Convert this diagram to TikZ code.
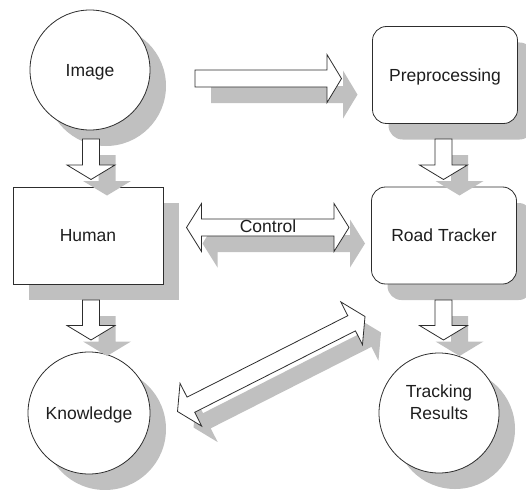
\documentclass[tikz,border=0pt]{standalone}
\usepackage{fontspec}
\setmainfont{Liberation Sans}
\usetikzlibrary{calc,shadows}
\definecolor{shadowgray}{RGB}{192,192,192}
\definecolor{linegray}{RGB}{45,45,45}
\definecolor{textgray}{RGB}{30,30,30}
\newcommand\sarrow[2]{%
  \draw[blk] ($(#1)!8.5pt!90:(#2)$) -- ($(#2)!14.5pt!(#1)!8.5pt!-90:(#1)$)
    -- ($(#2)!14.5pt!(#1)!24pt!-90:(#1)$) -- (#2)
    -- ($(#2)!14.5pt!(#1)!24pt!90:(#1)$) -- ($(#2)!14.5pt!(#1)!8.5pt!90:(#1)$)
    -- ($(#1)!8.5pt!-90:(#2)$) -- cycle;}
\newcommand\darrow[2]{%
  \draw[blk] (#1) -- ($(#1)!15pt!(#2)!24pt!90:(#2)$) -- ($(#1)!15pt!(#2)!8.5pt!90:(#2)$)
    -- ($(#2)!15pt!(#1)!8.5pt!-90:(#1)$) -- ($(#2)!15pt!(#1)!24pt!-90:(#1)$)
    -- (#2) -- ($(#2)!15pt!(#1)!24pt!90:(#1)$) -- ($(#2)!15pt!(#1)!8.5pt!90:(#1)$)
    -- ($(#1)!15pt!(#2)!8.5pt!-90:(#2)$) -- ($(#1)!15pt!(#2)!24pt!-90:(#2)$) -- cycle;}
\begin{document}
\begin{tikzpicture}[x=1pt,y=-1pt,
  shad/.style={drop shadow={shadow xshift=16pt,shadow yshift=-16pt,fill=shadowgray,opacity=1}},
  obj/.style={draw=linegray,line width=0.8pt,fill=white,shad,text=textgray,
    font=\fontsize{17.5}{22}\selectfont,align=center,text height=12.6pt,text depth=0pt},
  circ/.style={obj,circle,minimum size=120pt,inner sep=0pt},
  sq/.style={obj,rectangle,minimum width=150pt,minimum height=97pt,inner sep=0pt},
  rsq/.style={sq,rounded corners=14pt,minimum width=145pt},
  blk/.style={draw=linegray,line width=0.8pt,fill=white,line join=miter,shad},
  lbl/.style={text=textgray,font=\fontsize{17.5}{22}\selectfont,inner sep=0pt}]
\useasboundingbox (0,0) rectangle (526,489);
\node[circ] (image) at (90,70) {Image};
\node[rsq] (pre) at (445,75) {Preprocessing};
\node[sq] (human) at (88,235.5) {Human};
\node[rsq] (road) at (444,235.5) {Road Tracker};
\node[circ,minimum size=122pt] (know) at (89,413) {Knowledge};
\node[circ] (track) at (439,413) {Tracking\\Results};
% arrow end points
\coordinate (a1s) at (91,139);   \coordinate (a1e) at (91,179.5);
\coordinate (a2s) at (443.5,139); \coordinate (a2e) at (443.5,179.5);
\coordinate (a3s) at (91,300);   \coordinate (a3e) at (91,340);
\coordinate (a4s) at (443.5,300); \coordinate (a4e) at (443.5,340);
\coordinate (a5s) at (195,78.6); \coordinate (a5e) at (341.5,78.6);
\coordinate (c1) at (186.5,227.5); \coordinate (c2) at (349,227.5);
\coordinate (d1) at (177.5,411.5); \coordinate (d2) at (365,316.5);
\sarrow{a5s}{a5e}
\sarrow{a1s}{a1e}
\sarrow{a2s}{a2e}
\sarrow{a3s}{a3e}
\sarrow{a4s}{a4e}
\darrow{c1}{c2}
\darrow{d1}{d2}
\node[lbl,text height=12.6pt,text depth=0pt] (ctrl) at (268,226.5) {Control};
\end{tikzpicture}
\end{document}
